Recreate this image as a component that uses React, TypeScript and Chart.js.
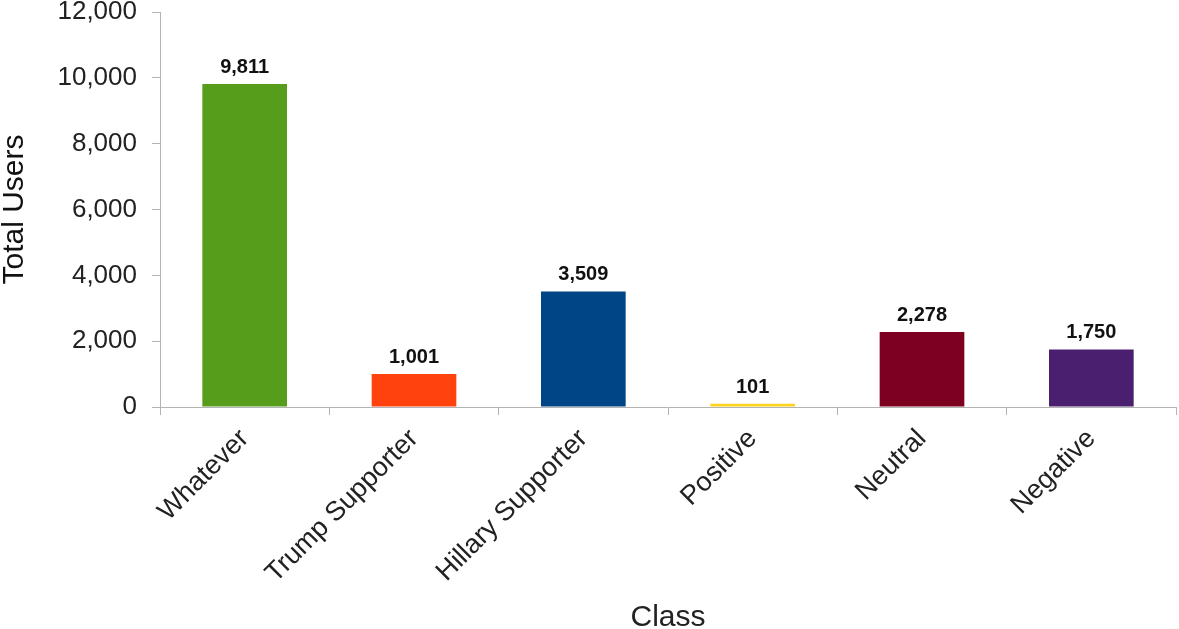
import React, { useEffect, useRef } from "react";
import { Chart, registerables } from "chart.js";

Chart.register(...registerables);

const categories = ["Whatever", "Trump Supporter", "Hillary Supporter", "Positive", "Neutral", "Negative"];
const totalUsers = [9811, 1001, 3509, 101, 2278, 1750];
const barColors = ["#579d1c", "#ff420e", "#004586", "#ffd320", "#7e0021", "#4b1f6f"];
const yTicks = [0, 2000, 4000, 6000, 8000, 10000, 12000];

const FONT = "'Liberation Sans', Arial, sans-serif";

const valueLabels = {
  id: "valueLabels",
  afterDatasetsDraw(chart: any) {
    const ctx = chart.ctx;
    const meta = chart.getDatasetMeta(0);
    ctx.save();
    ctx.font = `bold 20px ${FONT}`;
    ctx.fillStyle = "#111";
    ctx.textAlign = "center";
    ctx.textBaseline = "alphabetic";
    meta.data.forEach((el: any, i: number) => {
      const v = chart.data.datasets[0].data[i] as number;
      ctx.fillText(v.toLocaleString("en-US"), el.x, el.y - 11);
    });
    ctx.restore();
  },
};

export default function App() {
  const ref = useRef<HTMLCanvasElement | null>(null);
  useEffect(() => {
    if (!ref.current) return;
    const chart = new Chart(ref.current, {
      type: "bar",
      data: {
        labels: categories,
        datasets: [
          {
            data: totalUsers,
            backgroundColor: barColors,
            categoryPercentage: 1,
            barPercentage: 0.5,
          },
        ],
      },
      options: {
        animation: false,
        responsive: false,
        maintainAspectRatio: false,
        layout: { padding: { top: 12, right: 3, left: 0, bottom: 0 } },
        plugins: { legend: { display: false }, tooltip: { enabled: false } },
        scales: {
          x: {
            offset: true,
            afterFit: (s: any) => {
              s.height = 222;
              s.paddingLeft = 0;
              s.paddingRight = 0;
            },
            grid: {
              offset: true,
              drawOnChartArea: false,
              drawTicks: true,
              tickLength: 8,
              color: "#b3b3b3",
            },
            border: { color: "#b3b3b3", width: 1 },
            ticks: {
              autoSkip: false,
              minRotation: 45,
              maxRotation: 45,
              padding: 8,
              color: "#222",
              font: { family: FONT, size: 27 },
            },
            title: {
              display: true,
              text: "Class",
              color: "#222",
              font: { family: FONT, size: 30, lineHeight: 1 },
              padding: { top: 0, bottom: -4 },
            },
          },
          y: {
            min: 0,
            max: 12000,
            afterFit: (s: any) => {
              s.width = 160;
              s.paddingTop = 0;
              s.paddingBottom = 0;
            },
            afterBuildTicks: (s: any) => {
              s.ticks = yTicks.map((v) => ({ value: v }));
            },
            grid: {
              drawOnChartArea: false,
              drawTicks: true,
              tickLength: 8,
              color: "#b3b3b3",
            },
            border: { color: "#b3b3b3", width: 1 },
            ticks: {
              padding: 15,
              color: "#222",
              font: { family: FONT, size: 26 },
              callback: (v: any) => Number(v).toLocaleString("en-US"),
            },
            title: {
              display: true,
              text: "Total Users",
              color: "#111",
              font: { family: FONT, size: 30, lineHeight: 1 },
              padding: { top: 0, bottom: 0 },
            },
          },
        },
      },
      plugins: [valueLabels],
    });
    return () => chart.destroy();
  }, []);
  return (
    <div style={{ position: "fixed", left: 0, top: 0, width: 1179, height: 629, background: "#fff" }}>
      <canvas ref={ref} width={1179} height={629} />
    </div>
  );
}
